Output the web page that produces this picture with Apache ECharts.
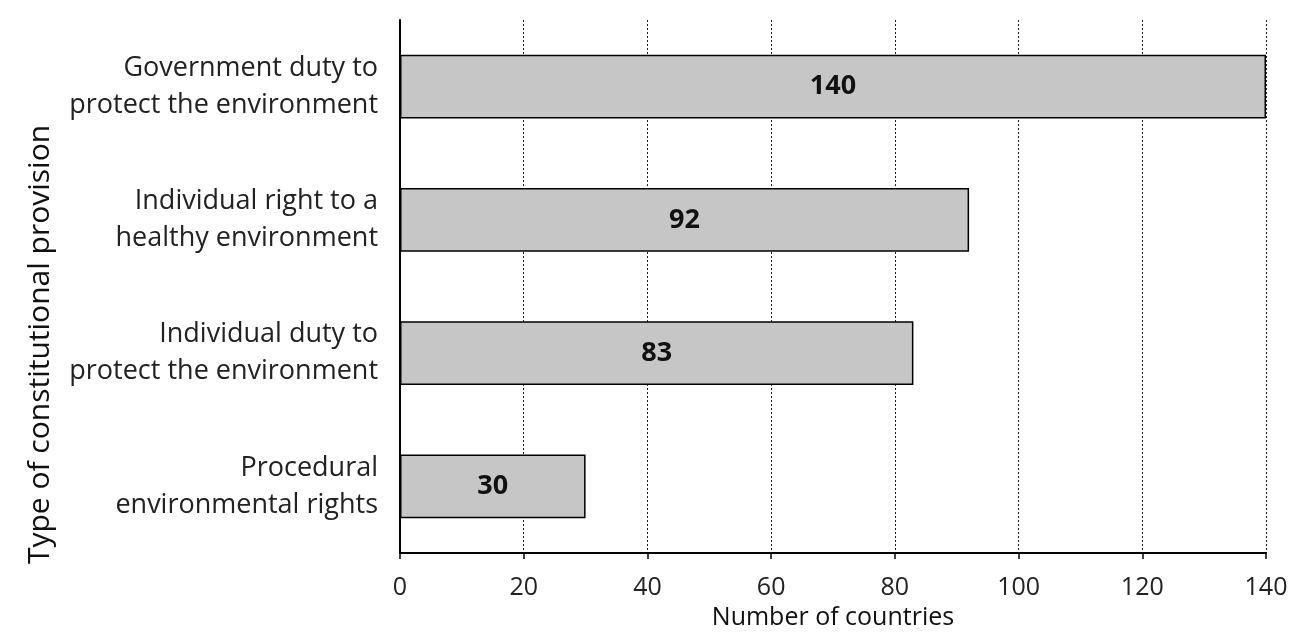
<!DOCTYPE html>
<html>
<head>
<meta charset="utf-8">
<script src="https://cdn.jsdelivr.net/npm/echarts@6/dist/echarts.min.js"></script>
<style>
  html, body { margin: 0; padding: 0; background: #fff; }
  #chart { width: 1303px; height: 635px; }
</style>
</head>
<body>
<div id="chart"></div>
<script>
// categories listed bottom to top (category axis draws first item at the bottom)
var categories = [
  'Procedural\nenvironmental rights',
  'Individual duty to\nprotect the environment',
  'Individual right to a\nhealthy environment',
  'Government duty to\nprotect the environment'
];
var counts = [30, 83, 92, 140];
var xTicks = [0, 20, 40, 60, 80, 100, 120, 140];

var font = 'Open Sans, Noto Sans, sans-serif';
var chart = echarts.init(document.getElementById('chart'));

var option = {
  backgroundColor: '#fff',
  animation: false,
  grid: { left: 400, right: 37, top: 20, bottom: 80 },
  xAxis: {
    type: 'value',
    min: xTicks[0],
    max: xTicks[xTicks.length - 1],
    interval: 20,
    name: 'Number of countries',
    nameLocation: 'middle',
    nameGap: 52,
    nameTextStyle: { fontFamily: font, fontSize: 25, color: '#111' },
    axisLine: { show: true, lineStyle: { color: '#000', width: 2 } },
    axisTick: { show: true, length: 6, inside: false, lineStyle: { color: '#000', width: 1.5 } },
    axisLabel: { fontFamily: font, fontSize: 25, color: '#222', margin: 22 },
    splitLine: { show: true, lineStyle: { color: '#222', width: 1, type: [2, 2] } }
  },
  yAxis: {
    type: 'category',
    data: categories,
    name: 'Type of constitutional provision',
    nameLocation: 'middle',
    nameRotate: 90,
    nameGap: 345,
    nameTextStyle: { fontFamily: font, fontSize: 30, color: '#111', padding: [0, 116, 0, 0] },
    axisLine: { show: true, lineStyle: { color: '#000', width: 2 } },
    axisTick: { show: false },
    axisLabel: {
      fontFamily: font, fontSize: 27, color: '#222',
      lineHeight: 37, align: 'right', margin: 22
    }
  },
  series: [{
    type: 'bar',
    data: counts,
    barWidth: '48%',
    itemStyle: { color: '#c6c6c6', borderColor: '#000', borderWidth: 1.5 },
    label: {
      show: true,
      position: 'inside',
      fontFamily: font,
      fontSize: 27,
      fontWeight: 'bold',
      color: '#111'
    }
  }]
};

chart.setOption(option);
</script>
</body>
</html>
